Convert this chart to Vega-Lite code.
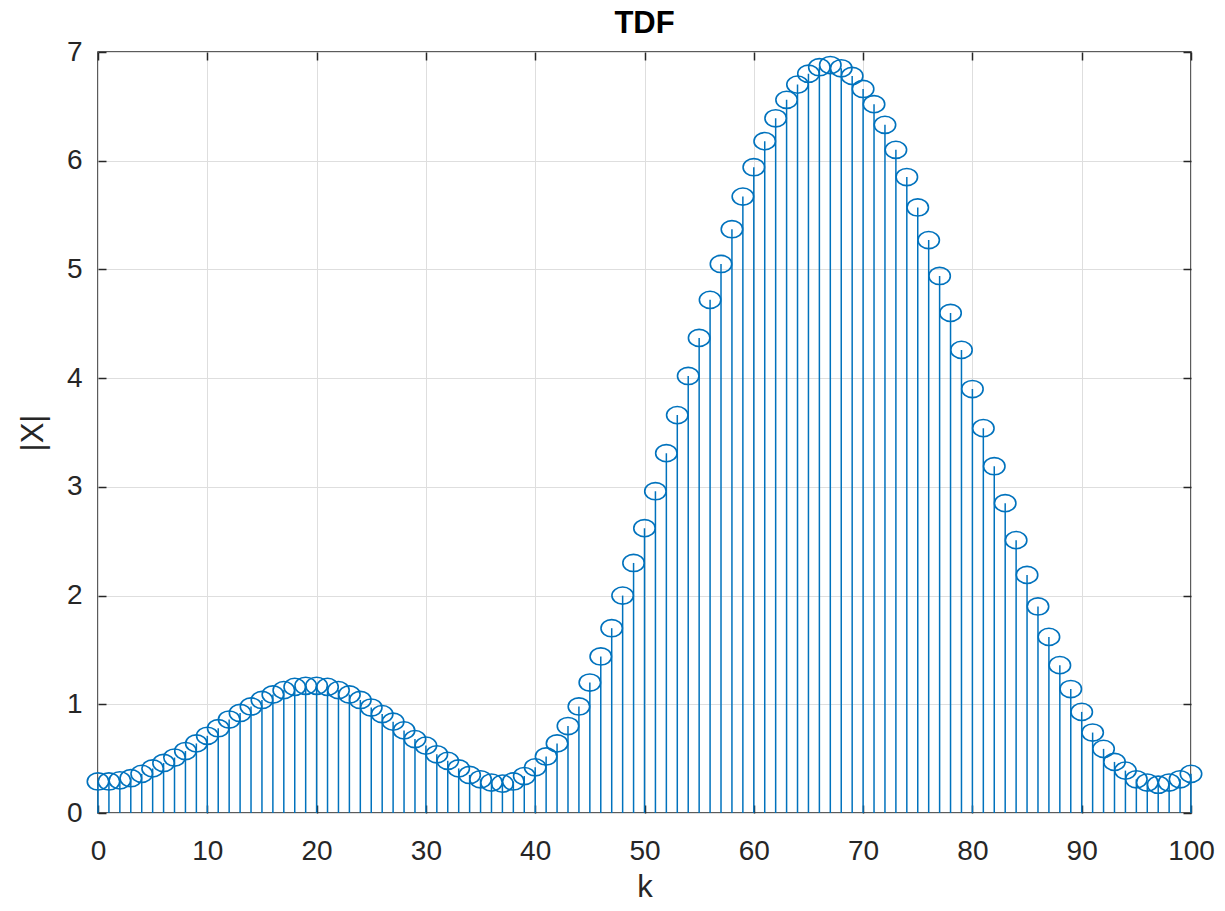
{
  "$schema": "https://vega.github.io/schema/vega-lite/v6.json",
  "width": 1093,
  "height": 761,
  "autosize": "none",
  "padding": {"left": 98, "top": 52, "right": 34, "bottom": 98},
  "background": "white",
  "title": {"text": "TDF", "fontSize": 31, "fontWeight": "bold", "font": "Liberation Sans", "color": "#000000", "offset": -2, "anchor": "middle"},
  "config": {
    "view": {"stroke": "#262626", "strokeWidth": 1.5},
    "axis": {
      "domain": false,
      "labelFont": "Liberation Sans",
      "labelFontSize": 28,
      "labelColor": "#262626",
      "labelFlush": false,
      "labelOverlap": false,
      "titleFont": "Liberation Sans",
      "titleFontSize": 31,
      "titleFontWeight": "normal",
      "titleColor": "#262626",
      "tickColor": "#262626",
      "tickWidth": 1.5,
      "tickSize": -8,
      "gridColor": "#dedede",
      "gridWidth": 1
    }
  },
  "data": {"values": [
    {"k":0,"v":0.29},{"k":1,"v":0.29},{"k":2,"v":0.30},{"k":3,"v":0.32},{"k":4,"v":0.36},
    {"k":5,"v":0.41},{"k":6,"v":0.46},{"k":7,"v":0.51},{"k":8,"v":0.57},{"k":9,"v":0.64},
    {"k":10,"v":0.71},{"k":11,"v":0.78},{"k":12,"v":0.86},{"k":13,"v":0.92},{"k":14,"v":0.98},
    {"k":15,"v":1.04},{"k":16,"v":1.09},{"k":17,"v":1.13},{"k":18,"v":1.16},{"k":19,"v":1.17},
    {"k":20,"v":1.17},{"k":21,"v":1.16},{"k":22,"v":1.13},{"k":23,"v":1.09},{"k":24,"v":1.04},
    {"k":25,"v":0.97},{"k":26,"v":0.91},{"k":27,"v":0.84},{"k":28,"v":0.76},{"k":29,"v":0.68},
    {"k":30,"v":0.62},{"k":31,"v":0.54},{"k":32,"v":0.48},{"k":33,"v":0.41},{"k":34,"v":0.35},
    {"k":35,"v":0.31},{"k":36,"v":0.28},{"k":37,"v":0.27},{"k":38,"v":0.29},{"k":39,"v":0.34},
    {"k":40,"v":0.42},{"k":41,"v":0.52},{"k":42,"v":0.64},{"k":43,"v":0.80},{"k":44,"v":0.98},
    {"k":45,"v":1.20},{"k":46,"v":1.44},{"k":47,"v":1.70},{"k":48,"v":2.00},{"k":49,"v":2.30},
    {"k":50,"v":2.62},{"k":51,"v":2.96},{"k":52,"v":3.31},{"k":53,"v":3.66},{"k":54,"v":4.02},
    {"k":55,"v":4.37},{"k":56,"v":4.72},{"k":57,"v":5.05},{"k":58,"v":5.37},{"k":59,"v":5.67},
    {"k":60,"v":5.94},{"k":61,"v":6.18},{"k":62,"v":6.39},{"k":63,"v":6.56},{"k":64,"v":6.70},
    {"k":65,"v":6.80},{"k":66,"v":6.86},{"k":67,"v":6.88},{"k":68,"v":6.85},{"k":69,"v":6.78},
    {"k":70,"v":6.66},{"k":71,"v":6.52},{"k":72,"v":6.33},{"k":73,"v":6.10},{"k":74,"v":5.85},
    {"k":75,"v":5.57},{"k":76,"v":5.27},{"k":77,"v":4.94},{"k":78,"v":4.60},{"k":79,"v":4.26},
    {"k":80,"v":3.90},{"k":81,"v":3.54},{"k":82,"v":3.19},{"k":83,"v":2.85},{"k":84,"v":2.51},
    {"k":85,"v":2.19},{"k":86,"v":1.90},{"k":87,"v":1.62},{"k":88,"v":1.36},{"k":89,"v":1.14},
    {"k":90,"v":0.93},{"k":91,"v":0.74},{"k":92,"v":0.59},{"k":93,"v":0.47},{"k":94,"v":0.39},
    {"k":95,"v":0.31},{"k":96,"v":0.28},{"k":97,"v":0.26},{"k":98,"v":0.28},{"k":99,"v":0.31},
    {"k":100,"v":0.36}
  ]},
  "resolve": {"axis": {"x": "independent", "y": "independent"}},
  "layer": [
    {
      "mark": {"type": "rule", "color": "#0072BD", "strokeWidth": 1.5},
      "encoding": {
        "x": {"field": "k", "type": "quantitative", "scale": {"domain": [0, 100], "nice": false, "zero": false},
              "axis": {"orient": "bottom", "values": [0,10,20,30,40,50,60,70,80,90,100], "title": "k", "labelPadding": 32, "titlePadding": 7, "grid": true}},
        "y": {"field": "v", "type": "quantitative", "scale": {"domain": [0, 7], "nice": false},
              "axis": {"orient": "left", "values": [0,1,2,3,4,5,6,7], "title": "|X|", "labelPadding": 24, "titlePadding": 17, "grid": true}},
        "y2": {"datum": 0}
      }
    },
    {
      "mark": {"type": "point", "shape": "M -1 0 A 1 0.8 0 1 0 1 0 A 1 0.8 0 1 0 -1 0 Z", "filled": false, "color": "#0072BD", "strokeWidth": 1.6, "size": 460, "opacity": 1},
      "encoding": {
        "x": {"field": "k", "type": "quantitative",
              "axis": {"orient": "top", "values": [0,10,20,30,40,50,60,70,80,90,100], "labels": false, "title": null, "grid": false}},
        "y": {"field": "v", "type": "quantitative",
              "axis": {"orient": "right", "values": [0,1,2,3,4,5,6,7], "labels": false, "title": null, "grid": false}}
      }
    }
  ]
}
